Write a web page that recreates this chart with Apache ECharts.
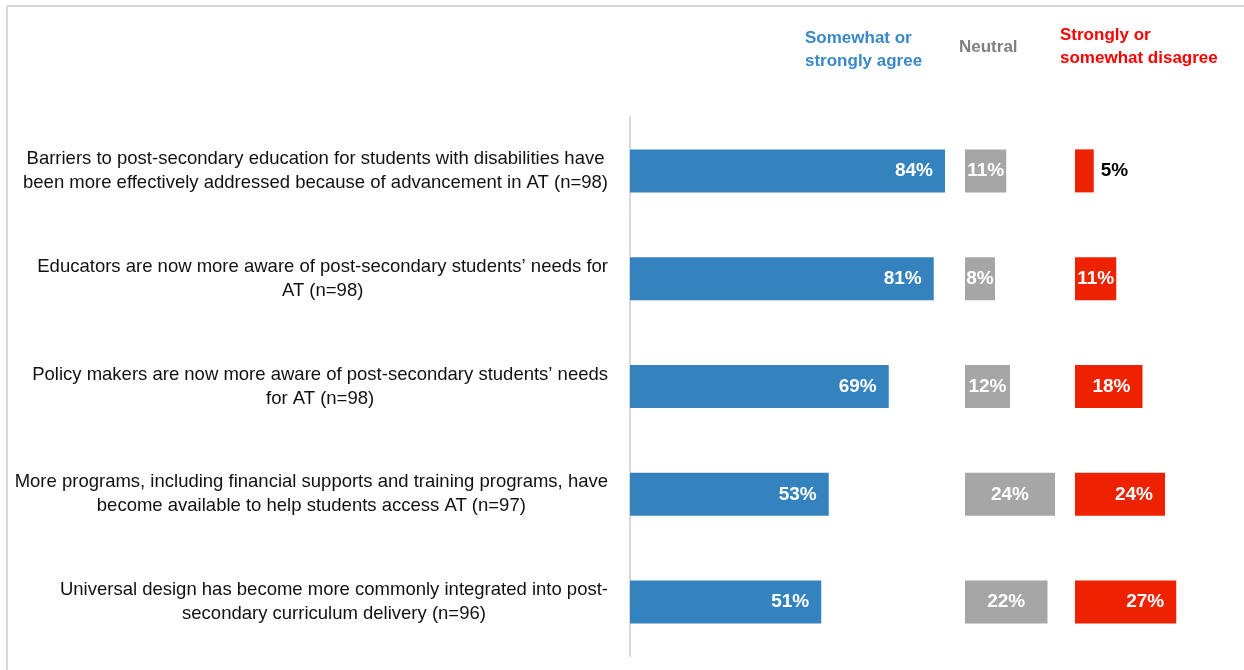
<!DOCTYPE html>
<html>
<head>
<meta charset="utf-8">
<script src="https://cdn.jsdelivr.net/npm/echarts@6/dist/echarts.min.js"></script>
<style>
  html, body { margin: 0; padding: 0; background: #ffffff; }
  #chart { width: 1244px; height: 670px; }
</style>
</head>
<body>
<div id="chart"></div>
<script>
// Survey statements (two-line wrapped, as printed next to the bars)
const categories = [
  'Barriers to post-secondary education for students with disabilities have\nbeen more effectively addressed because of advancement in AT (n=98)',
  'Educators are now more aware of post-secondary students\u2019 needs for\nAT (n=98)',
  'Policy makers are now more aware of post-secondary students\u2019 needs\nfor AT (n=98)',
  'More programs, including financial supports and training programs, have\nbecome available to help students access AT (n=97)',
  'Universal design has become more commonly integrated into post-\nsecondary curriculum delivery (n=96)'
];

// Response groups
const groupNames = ['Somewhat or\nstrongly agree', 'Neutral', 'Strongly or\nsomewhat disagree'];

// Percent of respondents in each group
const agree = [84, 81, 69, 53, 51];
const neutral = [11, 8, 12, 24, 22];
const disagree = [5, 11, 18, 24, 27];

const FONT = "'Liberation Sans', Arial, sans-serif";
const BLUE = '#3483be';
const GRAY = '#a6a6a6';
const RED = '#ee2200';

const chart = echarts.init(document.getElementById('chart'), null, { renderer: 'canvas' });

const TOP = 117;
const HEIGHT = 539;
// three panels sharing the same px-per-percent scale (3.75 px per %)
const panels = [
  { left: 630, width: 375, max: 100 },
  { left: 965, width: 150, max: 40 },
  { left: 1075, width: 150, max: 40 }
];

const grid = panels.map(p => ({
  left: p.left, top: TOP, width: p.width, height: HEIGHT,
  containLabel: false, outerBoundsMode: 'none'
}));

const xAxis = panels.map((p, i) => ({
  type: 'value', gridIndex: i, min: 0, max: p.max,
  show: false, splitLine: { show: false }
}));

const yAxis = panels.map((p, i) => ({
  type: 'category', gridIndex: i, data: categories, inverse: true,
  axisLine: { show: i === 0, lineStyle: { color: '#d9d9d9', width: 2 } },
  axisTick: { show: false },
  axisLabel: i === 0 ? {
    show: true,
    margin: 22,
    formatter: v => v.split('\n').map(l => '{c|' + l + '}').join('\n'),
    rich: {
      c: { align: 'center', fontFamily: FONT, fontSize: 18.5, lineHeight: 24, color: '#111111' }
    }
  } : { show: false },
  splitLine: { show: false }
}));

const valueLabel = {
  show: true,
  fontFamily: FONT,
  fontWeight: 'bold',
  fontSize: 19,
  color: '#ffffff',
  formatter: p => p.value + '%'
};

const series = [
  {
    name: groupNames[0], type: 'bar', xAxisIndex: 0, yAxisIndex: 0,
    data: agree, barWidth: 43,
    itemStyle: { color: BLUE },
    label: Object.assign({}, valueLabel, { position: 'insideRight', distance: 12 })
  },
  {
    name: groupNames[1], type: 'bar', xAxisIndex: 1, yAxisIndex: 1,
    data: neutral, barWidth: 43,
    itemStyle: { color: GRAY },
    label: Object.assign({}, valueLabel, { position: 'inside' })
  },
  {
    name: groupNames[2], type: 'bar', xAxisIndex: 2, yAxisIndex: 2,
    // very narrow bars carry their value just outside in black;
    // bars barely wider than the text centre it
    data: disagree.map(v => v < 8
      ? { value: v, label: { position: 'right', distance: 7, color: '#000000' } }
      : v < 14 ? { value: v, label: { position: 'inside' } } : { value: v }),
    barWidth: 43,
    itemStyle: { color: RED },
    label: Object.assign({}, valueLabel, { position: 'insideRight', distance: 12 })
  }
];

const headerStyle = { fontFamily: FONT, fontWeight: 'bold', fontSize: 17, lineHeight: 23 };

chart.setOption({
  backgroundColor: '#ffffff',
  animation: false,
  title: [
    { text: groupNames[0], left: 805, top: 27, padding: 0, textStyle: Object.assign({ color: '#3a88c8' }, headerStyle) },
    { text: groupNames[1], left: 959, top: 36, padding: 0, textStyle: Object.assign({ color: '#808080' }, headerStyle) },
    { text: groupNames[2], left: 1060, top: 24, padding: 0, textStyle: Object.assign({ color: '#ff0000' }, headerStyle) }
  ],
  grid: grid,
  xAxis: xAxis,
  yAxis: yAxis,
  series: series,
  graphic: [
    { type: 'line', shape: { x1: 7, y1: 6, x2: 1244, y2: 6 }, style: { stroke: '#d9d9d9', lineWidth: 2 }, silent: true },
    { type: 'line', shape: { x1: 7, y1: 6, x2: 7, y2: 670 }, style: { stroke: '#d9d9d9', lineWidth: 2 }, silent: true }
  ]
});
</script>
</body>
</html>
